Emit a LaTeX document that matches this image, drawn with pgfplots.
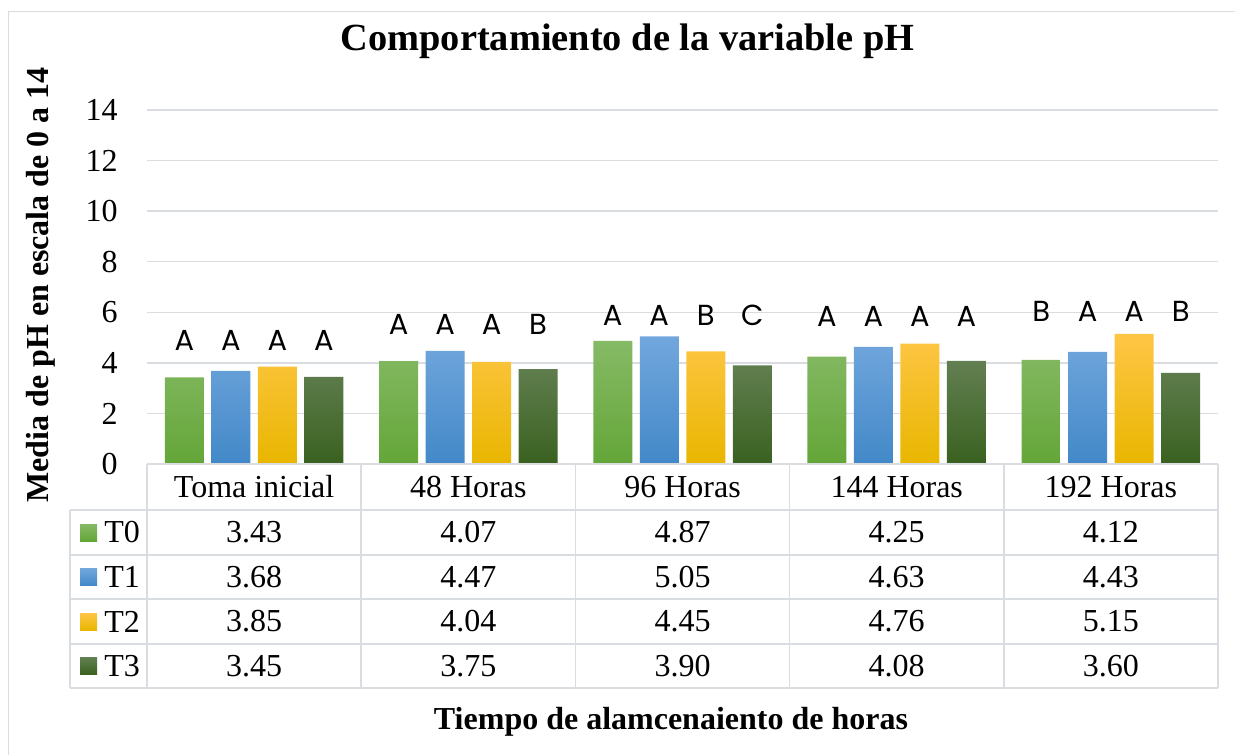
\documentclass[border=0pt]{standalone}
\usepackage{pgfplots}
\pgfplotsset{compat=1.18}
\usepackage{fontspec}
\setmainfont{Liberation Serif}
\newfontfamily\letterfont{Poppins}
\definecolor{gridc}{RGB}{217,220,225}
\definecolor{gAt}{RGB}{134,186,102}\definecolor{gAm}{RGB}{112,173,71}\definecolor{gAb}{RGB}{100,166,56}
\definecolor{bAt}{RGB}{114,167,221}\definecolor{bAm}{RGB}{91,155,213}\definecolor{bAb}{RGB}{66,136,200}
\definecolor{yAt}{RGB}{255,198,70}\definecolor{yAm}{RGB}{255,192,0}\definecolor{yAb}{RGB}{232,182,0}
\definecolor{dAt}{RGB}{98,127,81}\definecolor{dAm}{RGB}{67,104,43}\definecolor{dAb}{RGB}{58,97,32}
\newcommand\lab[4]{\node[font=\letterfont\fontsize{14.5}{16}\selectfont, anchor=base, inner sep=0pt, xshift=#3] at (axis cs:#1,#2) {#4};}
\begin{document}
\begin{tikzpicture}
\begin{scope}[x=0.5pt,y=-0.5pt]
\path[use as bounding box] (0,0) rectangle (1235,754);
\draw[gridc, line width=0.75pt] (8.5,760) -- (8.5,11.5) -- (1240,11.5);
\end{scope}
\begin{axis}[
  at={(73.5pt,-232pt)}, anchor=south west,
  scale only axis, width=535.5pt, height=177pt,
  xmin=-0.5, xmax=4.5, ymin=0, ymax=14,
  ytick={0,2,...,14}, xtick=\empty,
  ymajorgrids, grid style={gridc, line width=0.75pt},
  axis line style={draw=none}, major tick length=0pt,
  ybar=3.75pt, bar width=19.5pt,
  yticklabel style={font=\fontsize{16}{18}\selectfont, anchor=east, inner sep=0pt, xshift=-14.5pt},
  /pgf/number format/assume math mode=true,
  clip=false,
]
\addplot[draw=none, top color=gAt, middle color=gAm, bottom color=gAb] coordinates {(0,3.43) (1,4.07) (2,4.87) (3,4.25) (4,4.12)};
\addplot[draw=none, top color=bAt, middle color=bAm, bottom color=bAb] coordinates {(0,3.68) (1,4.47) (2,5.05) (3,4.63) (4,4.43)};
\addplot[draw=none, top color=yAt, middle color=yAm, bottom color=yAb] coordinates {(0,3.85) (1,4.04) (2,4.45) (3,4.76) (4,5.15)};
\addplot[draw=none, top color=dAt, middle color=dAm, bottom color=dAb] coordinates {(0,3.45) (1,3.75) (2,3.90) (3,4.08) (4,3.60)};
\lab{0}{4.47}{-34.875pt}{A}\lab{0}{4.47}{-11.625pt}{A}\lab{0}{4.47}{11.625pt}{A}\lab{0}{4.47}{34.875pt}{A}
\lab{1}{5.12}{-34.875pt}{A}\lab{1}{5.12}{-11.625pt}{A}\lab{1}{5.12}{11.625pt}{A}\lab{1}{5.12}{34.875pt}{B}
\lab{2}{5.46}{-34.875pt}{A}\lab{2}{5.46}{-11.625pt}{A}\lab{2}{5.46}{11.625pt}{B}\lab{2}{5.46}{34.875pt}{C}
\lab{3}{5.42}{-34.875pt}{A}\lab{3}{5.42}{-11.625pt}{A}\lab{3}{5.42}{11.625pt}{A}\lab{3}{5.42}{34.875pt}{A}
\lab{4}{5.62}{-34.875pt}{B}\lab{4}{5.62}{-11.625pt}{A}\lab{4}{5.62}{11.625pt}{A}\lab{4}{5.62}{34.875pt}{B}
\end{axis}
\begin{scope}[x=0.5pt,y=-0.5pt]
\begin{scope}[gridc, line width=0.75pt]
\draw (147,464) -- (1218,464);
\foreach \yy in {510,555,599,644,688} \draw (70,\yy) -- (1218,\yy);
\foreach \xx in {147,361.2,575.4,789.6,1003.8,1218} \draw (\xx,464) -- (\xx,688);
\draw (70,510) -- (70,688);
\end{scope}
\begin{scope}[font=\fontsize{16}{18}\selectfont]
\foreach \c/\t in {0/Toma inicial,1/48 Horas,2/96 Horas,3/144 Horas,4/192 Horas}
  \node at (254.1+\c*214.2,487) {\t};
\foreach \v [count=\i from 0] in {3.43,4.07,4.87,4.25,4.12} \node at (254.1+\i*214.2,532.5) {\v};
\foreach \v [count=\i from 0] in {3.68,4.47,5.05,4.63,4.43} \node at (254.1+\i*214.2,577) {\v};
\foreach \v [count=\i from 0] in {3.85,4.04,4.45,4.76,5.15} \node at (254.1+\i*214.2,621.5) {\v};
\foreach \v [count=\i from 0] in {3.45,3.75,3.90,4.08,3.60} \node at (254.1+\i*214.2,666) {\v};
\shade[top color=gAt, bottom color=gAb] (80,524) rectangle (97,541);
\shade[top color=bAt, bottom color=bAb] (80,568.5) rectangle (97,585.5);
\shade[top color=yAt, bottom color=yAb] (80,613) rectangle (97,630);
\shade[top color=dAt, bottom color=dAb] (80,657.5) rectangle (97,674.5);
\node[anchor=west, inner sep=0pt] at (104,532.5) {T0};
\node[anchor=west, inner sep=0pt] at (104,577) {T1};
\node[anchor=west, inner sep=0pt] at (104,621.5) {T2};
\node[anchor=west, inner sep=0pt] at (104,666) {T3};
\end{scope}
\node[font=\bfseries\fontsize{19.2}{22}\selectfont] at (627.5,41) {Comportamiento de la variable pH};
\node[font=\bfseries\fontsize{16}{18}\selectfont, rotate=90] at (41,285) {Media de pH en escala de 0 a 14};
\node[font=\bfseries\fontsize{16}{18}\selectfont] at (671,722) {Tiempo de alamcenaiento de horas};
\end{scope}
\end{tikzpicture}
\end{document}
